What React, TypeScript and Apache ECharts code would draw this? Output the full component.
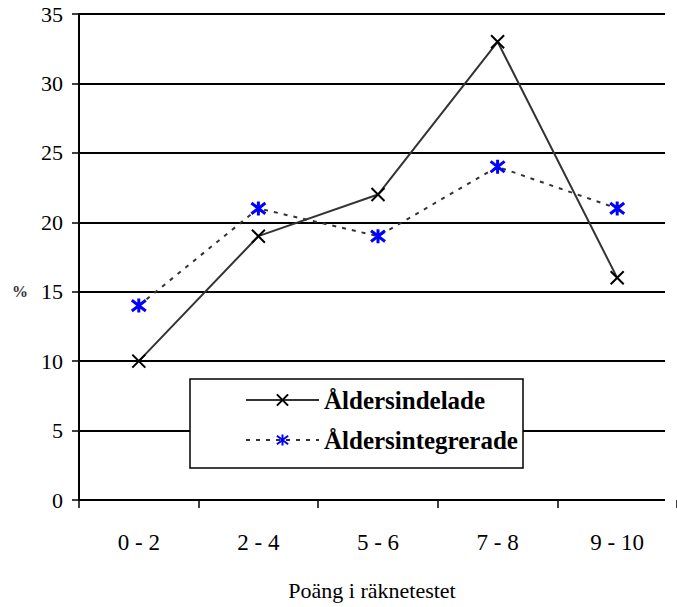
import React, { useEffect, useRef } from "react";
import * as echarts from "echarts";

const categories = ["0 - 2", "2 - 4", "5 - 6", "7 - 8", "9 - 10"];
const aldersindelade = [10, 19, 22, 33, 16];
const aldersintegrerade = [14, 21, 19, 24, 21];
const seriesNames = ["Åldersindelade", "Åldersintegrerade"];
const xAxisTitle = "Poäng i räknetestet";
const yAxisTitle = "%";

const FONT = "'Liberation Serif', 'Times New Roman', serif";
const CROSS = "path://M0,0L10,10M10,0L0,10";
const STAR = "path://M0,0L10,10M10,0L0,10M5,-1.5L5,11.5";

export default function App() {
  const ref = useRef<HTMLDivElement>(null);
  useEffect(() => {
    if (!ref.current) return;
    const chart = echarts.init(ref.current, undefined, { renderer: "svg" });
    chart.setOption({
      animation: false,
      backgroundColor: "#fff",
      grid: [
        { left: 79, right: -9, top: 14, bottom: 107 },
        { left: 79, right: 12, top: 14, bottom: 107 },
      ],
      xAxis: [
        {
          type: "category",
          gridIndex: 0,
          data: categories,
          boundaryGap: true,
          axisLine: { show: false },
          axisTick: { show: true, interval: 0, length: 8, lineStyle: { color: "#000", width: 1.5 } },
          axisLabel: { color: "#000", fontSize: 23, fontFamily: FONT, margin: 31, interval: 0 },
          splitLine: { show: false },
        },
        {
          type: "value",
          gridIndex: 1,
          show: false,
          min: 0,
          max: 1,
        },
      ],
      yAxis: [
        {
          type: "value",
          gridIndex: 0,
          min: 0,
          max: 35,
          interval: 5,
          show: false,
        },
        {
          type: "value",
          gridIndex: 1,
          min: 0,
          max: 35,
          interval: 5,
          axisLine: { show: true, lineStyle: { color: "#000", width: 2 } },
          axisTick: { show: true, length: 7, lineStyle: { color: "#000", width: 1.5 } },
          axisLabel: { color: "#000", fontSize: 22, fontFamily: FONT, margin: 16 },
          splitLine: { show: true, lineStyle: { color: "#000", width: 2 } },
        },
      ],
      legend: {
        orient: "vertical",
        left: 245,
        top: 387,
        padding: 0,
        itemWidth: 73,
        itemHeight: 14,
        itemGap: 14,
        z: 5,
        textStyle: { color: "#000", fontSize: 25, fontWeight: "bold", fontFamily: FONT, lineHeight: 26 },
        data: seriesNames,
      },
      graphic: [
        {
          type: "rect",
          z: 4,
          shape: { x: 190, y: 379, width: 333, height: 89 },
          style: { fill: "#fff", stroke: "#000", lineWidth: 1.5 },
        },
        {
          type: "text",
          x: 372,
          y: 590,
          style: { text: xAxisTitle, fill: "#000", font: `22px ${FONT}`, align: "center", verticalAlign: "middle" },
        },
        {
          type: "text",
          x: 20,
          y: 291,
          style: { text: yAxisTitle, fill: "#333", font: `bold 16px ${FONT}`, align: "center", verticalAlign: "middle" },
        },
      ],
      series: [
        {
          name: seriesNames[0],
          type: "line",
          xAxisIndex: 0,
          yAxisIndex: 0,
          data: aldersindelade,
          symbol: CROSS,
          symbolSize: 13,
          lineStyle: { color: "#333", width: 2 },
          itemStyle: { color: "transparent", borderColor: "#000", borderWidth: 2 },
          z: 3,
        },
        {
          name: seriesNames[1],
          type: "line",
          xAxisIndex: 0,
          yAxisIndex: 0,
          data: aldersintegrerade,
          symbol: STAR,
          symbolSize: 14,
          lineStyle: { color: "#333", width: 2, type: [4, 6] },
          itemStyle: { color: "transparent", borderColor: "#0000ff", borderWidth: 3 },
          z: 3,
        },
      ],
    });
    return () => chart.dispose();
  }, []);
  return <div ref={ref} style={{ width: 677, height: 607, position: "absolute", left: 0, top: 0 }} />;
}
